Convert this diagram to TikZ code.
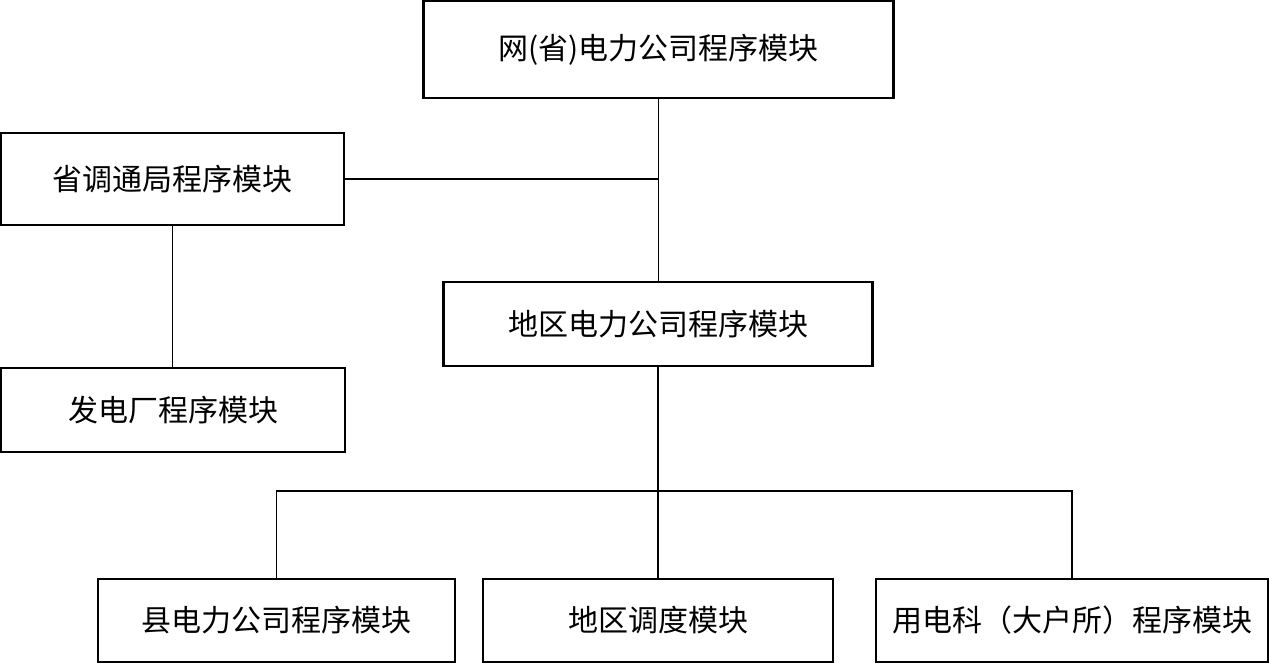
\documentclass[tikz,border=0pt]{standalone}
\usepackage{fontspec}
\newfontfamily\cjk{Noto Sans CJK SC}
\usetikzlibrary{positioning}
\tikzstyle{every node}=[font=\cjk\fontsize{30}{36}\selectfont]
\tikzstyle{every path}=[line width=1.3pt,line cap=rect,line join=miter]
\tikzstyle{modbox}=[draw,line width=2.6pt,inner sep=0pt,fill=white]

\begin{document}
\begin{tikzpicture}[x=1pt,y=-1pt]
%Program module structure
	\useasboundingbox (0,0) rectangle (1269,665);
	\newcommand\rowH{83} %height of lower boxes
	\node[modbox,minimum width=470,minimum height=97] (net) at (658.5,49.5) {网(省)电力公司程序模块};
	\node[modbox,minimum width=343,minimum height=92] (prov) at (172.5,179) {省调通局程序模块};
	\node[modbox,minimum width=344,minimum height=84] (plant) at (173,410) {发电厂程序模块};
	\node[modbox,minimum width=429,minimum height=84] (area) at (658,324) {地区电力公司程序模块};
	%BOTTOM ROW
	\node[modbox,minimum width=357,minimum height=\rowH] (county) at (276.5,620.5) {县电力公司程序模块};
	\node[modbox,minimum width=350,minimum height=\rowH] (disp) at (658,620.5) {地区调度模块};
	\node[modbox,minimum width=392,minimum height=\rowH] (cons) at (1072,620.5) {用电科（大户所）程序模块};
	\coordinate (bus) at (658,491); %% bus is where the bottom branches meet
	% Lines
	\draw (net.south) -- (net.south |- area.north);
	\draw (prov.east) -- (prov.east -| net.south);
	\draw (prov.south) -- (prov.south |- plant.north);
	\draw (area.south) -- (disp.north);
	\draw (county.north) |- (bus) -| (cons.north);
\end{tikzpicture}
\end{document}
